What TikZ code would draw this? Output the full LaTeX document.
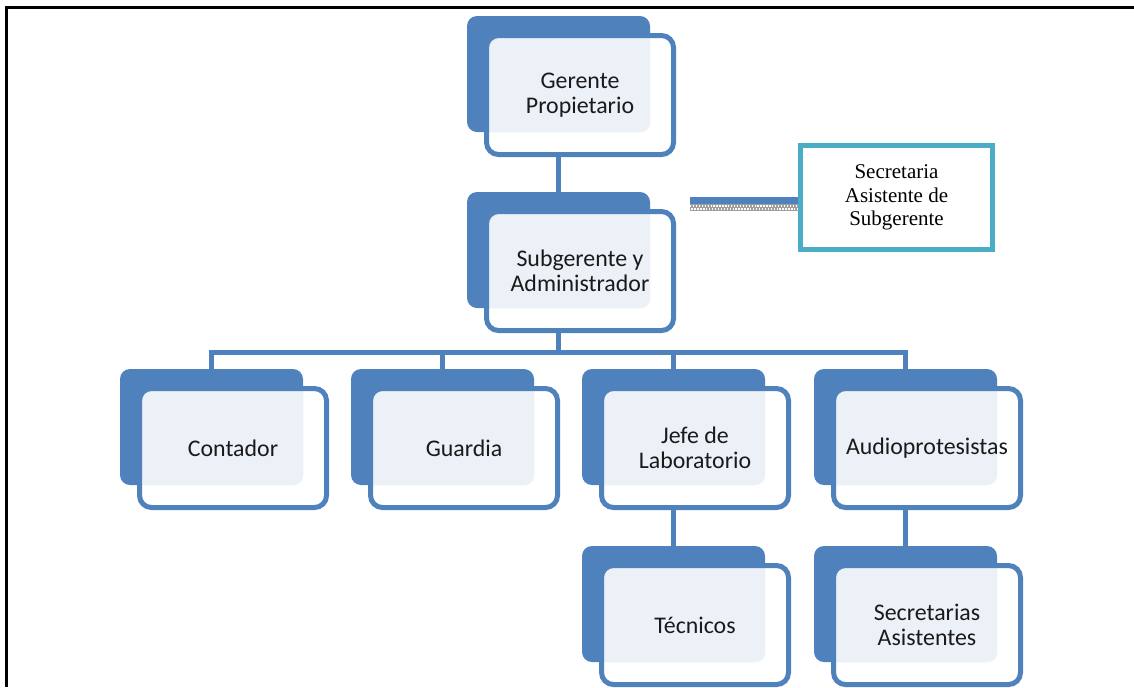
\documentclass[tikz,border=0pt]{standalone}
\usepackage{fontspec}
\setmainfont{Carlito}
\newfontfamily\timesf{Liberation Serif}
\definecolor{obl}{HTML}{4F81BD}
\definecolor{olt}{HTML}{ECF0F7}
\definecolor{oteal}{HTML}{4BACC6}
\definecolor{txt}{HTML}{1A1A1A}
\begin{document}
\begin{tikzpicture}[x=0.75pt,y=-0.75pt,
  backbox/.style={fill=obl, rounded corners=7.5pt, minimum width=137.25pt, minimum height=87pt, inner sep=0pt, draw=none},
  frontbox/.style={fill=white, draw=obl, line width=3.75pt, rounded corners=9pt,
    minimum width=140.25pt, minimum height=89.25pt, inner sep=0pt, align=center,
    font=\fontsize{17.9pt}{18.6pt}\selectfont, text=txt,
    path picture={\fill[olt, rounded corners=7.5pt]
      ([xshift=-15pt,yshift=15pt]path picture bounding box.north west) rectangle (#1.south east);}},
  secbox/.style={fill=white, draw=oteal, line width=3.75pt, minimum width=144pt, minimum height=78pt,
    inner sep=0pt, align=center, font=\timesf\fontsize{15.75pt}{17.6pt}\selectfont, text=black},
  conn/.style={draw=obl, line width=3.75pt},
]
\useasboundingbox (0,0) rectangle (1134,687);
% frame
\draw[line width=2.25pt] (6.2,687) -- (6.2,7) -- (1134,7);

% level 0 / 1
\node[backbox] (g0) at (558.5,74) {};
\node[frontbox=g0] (g) at (580,95) {Gerente\\Propietario};
\node[backbox] (s0) at (558.5,250) {};
\node[frontbox=s0] (s) at (580,271) {Subgerente y\\Administrador};

% secretaria
\node[secbox] (sec) at (896.5,197.5) {Secretaria\\Asistente de\\Subgerente};

% level 2
\node[backbox] (c0) at (211.5,427) {};
\node[frontbox=c0] (c) at (233,448) {Contador};
\node[backbox] (gu0) at (442.5,427) {};
\node[frontbox=gu0] (gu) at (464,448) {Guardia};
\node[backbox] (j0) at (673.5,427) {};
\node[frontbox=j0] (j) at (695,448) {Jefe de\\Laboratorio};
\node[backbox] (a0) at (905.5,427) {};
\node[frontbox=a0] (a) at (927,448) {Audioprotesistas};

% level 3
\node[backbox] (t0) at (673.5,604) {};
\node[frontbox=t0] (t) at (695,625) {Técnicos};
\node[backbox] (sa0) at (905.5,604) {};
\node[frontbox=sa0] (sa) at (927,625) {Secretarias\\Asistentes};

% connectors
\draw[conn] (g0.south |- g.south) -- (s0.north);
\coordinate (bus) at (558.5,352);
\draw[conn] (s0.south |- s.south) -- (bus);
\draw[conn] (c0.north) |- (bus);
\draw[conn] (gu0.north) |- (bus);
\draw[conn] (j0.north) |- (bus);
\draw[conn] (a0.north) |- (bus);
\draw[conn] (t0.north) -- (t0.north |- j.south);
\draw[conn] (sa0.north) -- (sa0.north |- a.south);

% dotted connector to secretaria
\coordinate (sl) at (690,200.5);
\coordinate (sl2) at (690,207.5);
\draw[obl, line width=5.25pt] (sl) -- (sl -| sec.west);
\draw[gray!75, line width=5.25pt] (sl2) -- (sl2 -| sec.west);
\draw[white, line width=1pt, dash pattern=on 1pt off 1.2pt] ([yshift=1.2pt]sl2) -- ([yshift=1.2pt]sl2 -| sec.west);
\draw[white, line width=1pt, dash pattern=on 1pt off 1.2pt, dash phase=1.1pt] ([yshift=-1.2pt]sl2) -- ([yshift=-1.2pt]sl2 -| sec.west);
\end{tikzpicture}
\end{document}
